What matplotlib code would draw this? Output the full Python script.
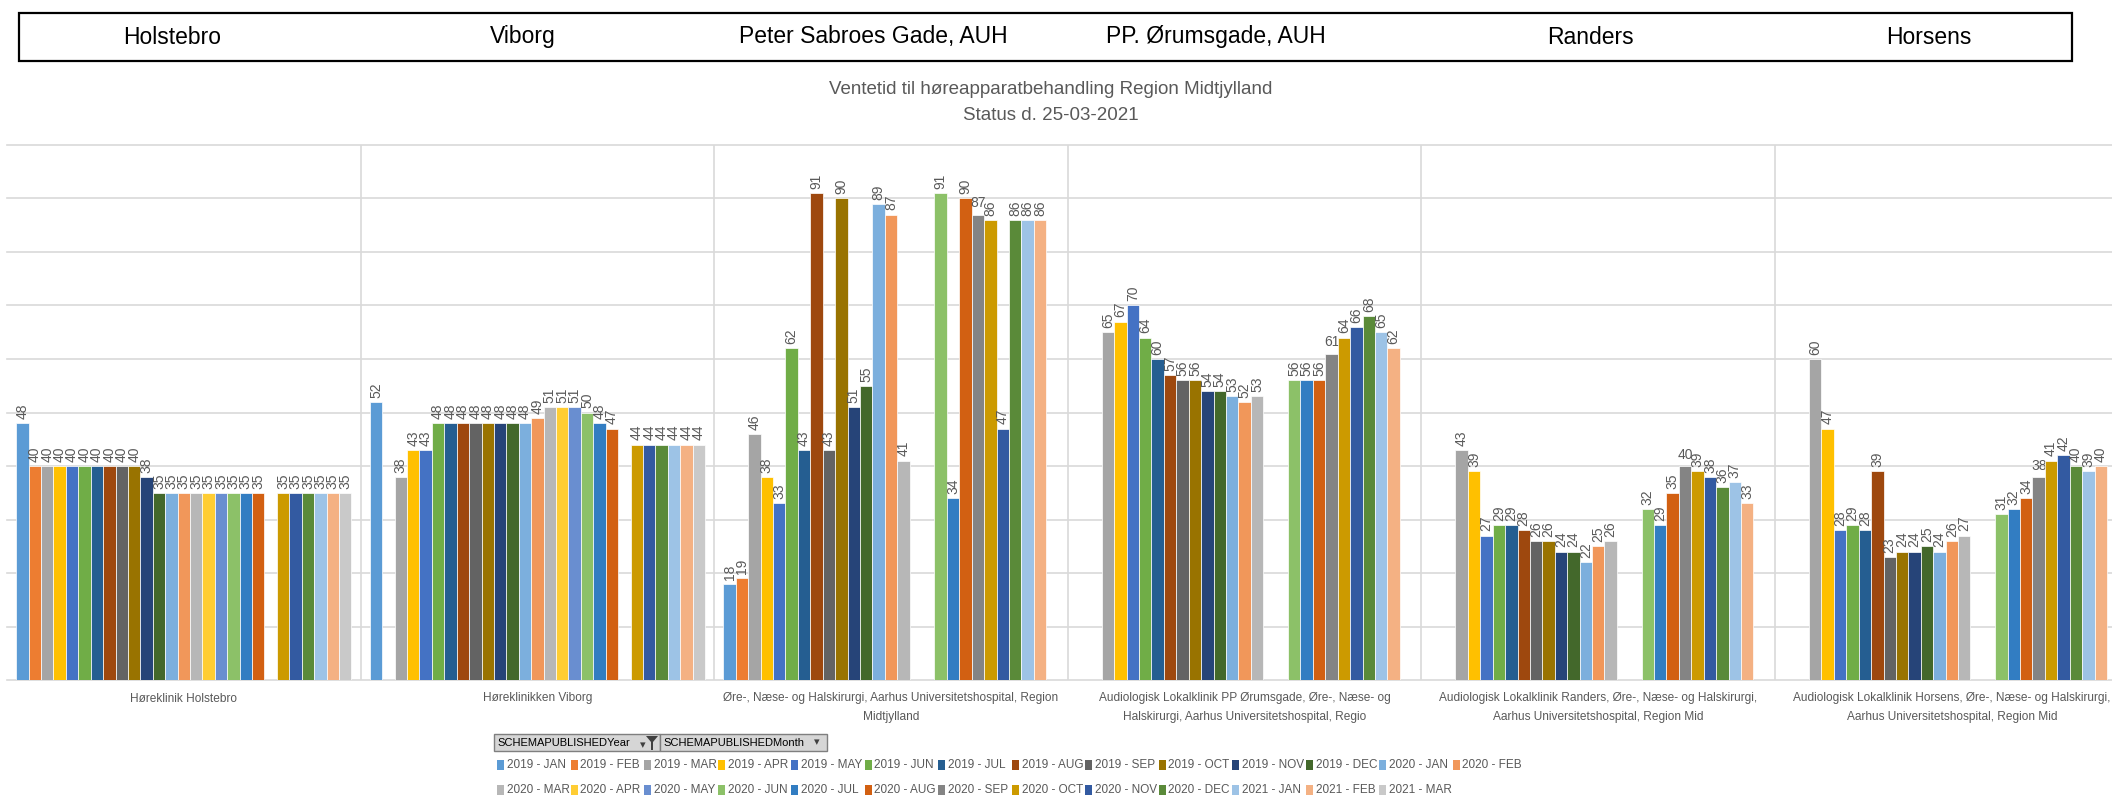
import numpy as np
import matplotlib.pyplot as plt
from matplotlib.patches import Rectangle, Polygon

N = np.nan

# series (legend) names and Excel-like colours
months = ['2019 - JAN', '2019 - FEB', '2019 - MAR', '2019 - APR', '2019 - MAY', '2019 - JUN',
          '2019 - JUL', '2019 - AUG', '2019 - SEP', '2019 - OCT', '2019 - NOV', '2019 - DEC',
          '2020 - JAN', '2020 - FEB', '2020 - MAR', '2020 - APR', '2020 - MAY', '2020 - JUN',
          '2020 - JUL', '2020 - AUG', '2020 - SEP', '2020 - OCT', '2020 - NOV', '2020 - DEC',
          '2021 - JAN', '2021 - FEB', '2021 - MAR']
colors = ['#5B9BD5', '#ED7D31', '#A5A5A5', '#FFC000', '#4472C4', '#70AD47',
          '#255E91', '#9E480E', '#636363', '#997300', '#264478', '#43682B',
          '#7CAFDD', '#F1975A', '#B7B7B7', '#FFCD33', '#698ED0', '#8CC168',
          '#327DC2', '#D26012', '#848484', '#CC9A00', '#335AA1', '#5A8A39',
          '#9DC3E6', '#F4B183', '#C9C9C9']

headers = ['Holstebro', 'Viborg', 'Peter Sabroes Gade, AUH', 'PP. Ørumsgade, AUH', 'Randers', 'Horsens']
clinics = ['Høreklinik Holstebro',
           'Høreklinikken Viborg',
           'Øre-, Næse- og Halskirurgi, Aarhus Universitetshospital, Region\nMidtjylland',
           'Audiologisk Lokalklinik PP Ørumsgade, Øre-, Næse- og\nHalskirurgi, Aarhus Universitetshospital, Regio',
           'Audiologisk Lokalklinik Randers, Øre-, Næse- og Halskirurgi,\nAarhus Universitetshospital, Region Mid',
           'Audiologisk Lokalklinik Horsens, Øre-, Næse- og Halskirurgi,\nAarhus Universitetshospital, Region Mid']

# waiting time (weeks) per clinic, one value per month above
holstebro = [48, 40, 40, 40, 40, 40, 40, 40, 40, 40, 38, 35, 35, 35, 35, 35, 35, 35, 35, 35, N, 35, 35, 35, 35, 35, 35]
viborg = [52, N, 38, 43, 43, 48, 48, 48, 48, 48, 48, 48, 48, 49, 51, 51, 51, 50, 48, 47, N, 44, 44, 44, 44, 44, 44]
sabroes = [18, 19, 46, 38, 33, 62, 43, 91, 43, 90, 51, 55, 89, 87, 41, N, N, 91, 34, 90, 87, 86, 47, 86, 86, 86, N]
orumsgade = [N, N, 65, 67, 70, 64, 60, 57, 56, 56, 54, 54, 53, 52, 53, N, N, 56, 56, 56, 61, 64, 66, 68, 65, 62, N]
randers = [N, N, 43, 39, 27, 29, 29, 28, 26, 26, 24, 24, 22, 25, 26, N, N, 32, 29, 35, 40, 39, 38, 36, 37, 33, N]
horsens = [N, N, 60, 47, 28, 29, 28, 39, 23, 24, 24, 25, 24, 26, 27, N, N, 31, 32, 34, 38, 41, 42, 40, 39, 40, N]

table = np.array([holstebro, viborg, sabroes, orumsgade, randers, horsens], dtype=float)

W, H = 2112, 798
fig = plt.figure(figsize=(W / 100, H / 100), dpi=100)
plain = ['Liberation Sans', 'DejaVu Sans']
grey = '#595959'


def fx(px):
    return px / W


def fy(py):
    return 1 - py / H


# header box with the location names
fig.add_artist(Rectangle((fx(19), fy(61)), fx(2072) - fx(19), 48 / H, fill=False,
                         ec='black', lw=1.6, transform=fig.transFigure))
for name, cx in zip(headers, [172, 523, 873, 1216, 1590, 1929]):
    fig.text(fx(cx), fy(37), name, ha='center', va='center', fontsize=16.5, family=plain)

fig.text(fx(1051), fy(90), 'Ventetid til høreapparatbehandling Region Midtjylland',
         ha='center', va='center', fontsize=13.5, color=grey, family=plain)
fig.text(fx(1051), fy(116), 'Status d. 25-03-2021',
         ha='center', va='center', fontsize=13.5, color=grey, family=plain)

# plot area
cat_w = 353.6
ax = fig.add_axes([fx(7), fy(680), 6 * cat_w / W, 535 / H])
ax.set_xlim(0, 6)
ax.set_ylim(0, 100)

n = len(months)
cluster = 0.948
bw = cluster / n
x0 = np.arange(6) + (1 - cluster) / 2

for j in range(n):
    vals = table[:, j]
    bars = ax.bar(x0 + (j + 0.5) * bw, vals, width=bw, color=colors[j],
                  edgecolor='white', linewidth=0.5, zorder=3)
    labels = ['' if np.isnan(v) else '%d' % v for v in vals]
    rot = 0 if months[j] == '2020 - SEP' else 90
    ax.bar_label(bars, labels=labels, padding=3, rotation=rot, fontsize=10,
                 color=grey, family=plain)

for y in range(10, 101, 10):
    ax.axhline(y, color='#d9d9d9', lw=1.2, zorder=1, clip_on=False)
for xv in range(1, 6):
    ax.axvline(xv, color='#d9d9d9', lw=1.2, zorder=1)

for s in ['top', 'right', 'left']:
    ax.spines[s].set_visible(False)
ax.spines['bottom'].set_color('#d9d9d9')
ax.spines['bottom'].set_linewidth(1.2)
ax.set_yticks([])
ax.set_xticks(np.arange(6) + 0.5)
ax.set_xticklabels(clinics, fontsize=8.6, color=grey, family=plain, linespacing=1.75)
ax.tick_params(axis='x', length=0, pad=9)

# pivot field buttons
for bx, bw_px, txt in [(494, 166, 'SCHEMAPUBLISHEDYear'), (660, 167, 'SCHEMAPUBLISHEDMonth')]:
    fig.add_artist(Rectangle((fx(bx), fy(751)), bw_px / W, 17 / H, fc='#d6d6d6',
                             ec='#7f7f7f', lw=1, transform=fig.transFigure))
    fig.text(fx(bx + 3), fy(742.5), txt, ha='left', va='center', fontsize=8,
             family=plain, color='black')
fig.text(fx(643), fy(745), '▾', ha='center', va='center', fontsize=8, color='#404040')
fig.add_artist(Polygon([[fx(646), fy(736)], [fx(658), fy(736)], [fx(653), fy(742)],
                        [fx(653), fy(750)], [fx(651), fy(750)], [fx(651), fy(742)]],
                       closed=True, fc='#404040', ec='none', transform=fig.transFigure))
fig.text(fx(817), fy(742), '▾', ha='center', va='center', fontsize=8, color='#404040')

# legend, two rows like Excel
step = 73.5
for k, (m, c) in enumerate(zip(months, colors)):
    row, col = divmod(k, 14)
    lx = 497 + col * step
    ly = 765 if row == 0 else 790
    fig.add_artist(Rectangle((fx(lx), fy(ly + 5)), 7 / W, 10 / H, fc=c, ec='none',
                             transform=fig.transFigure))
    fig.text(fx(lx + 10), fy(ly), m, ha='left', va='center', fontsize=8.5,
             color=grey, family=plain)

fig.savefig('out.png', dpi=100, facecolor='white')
